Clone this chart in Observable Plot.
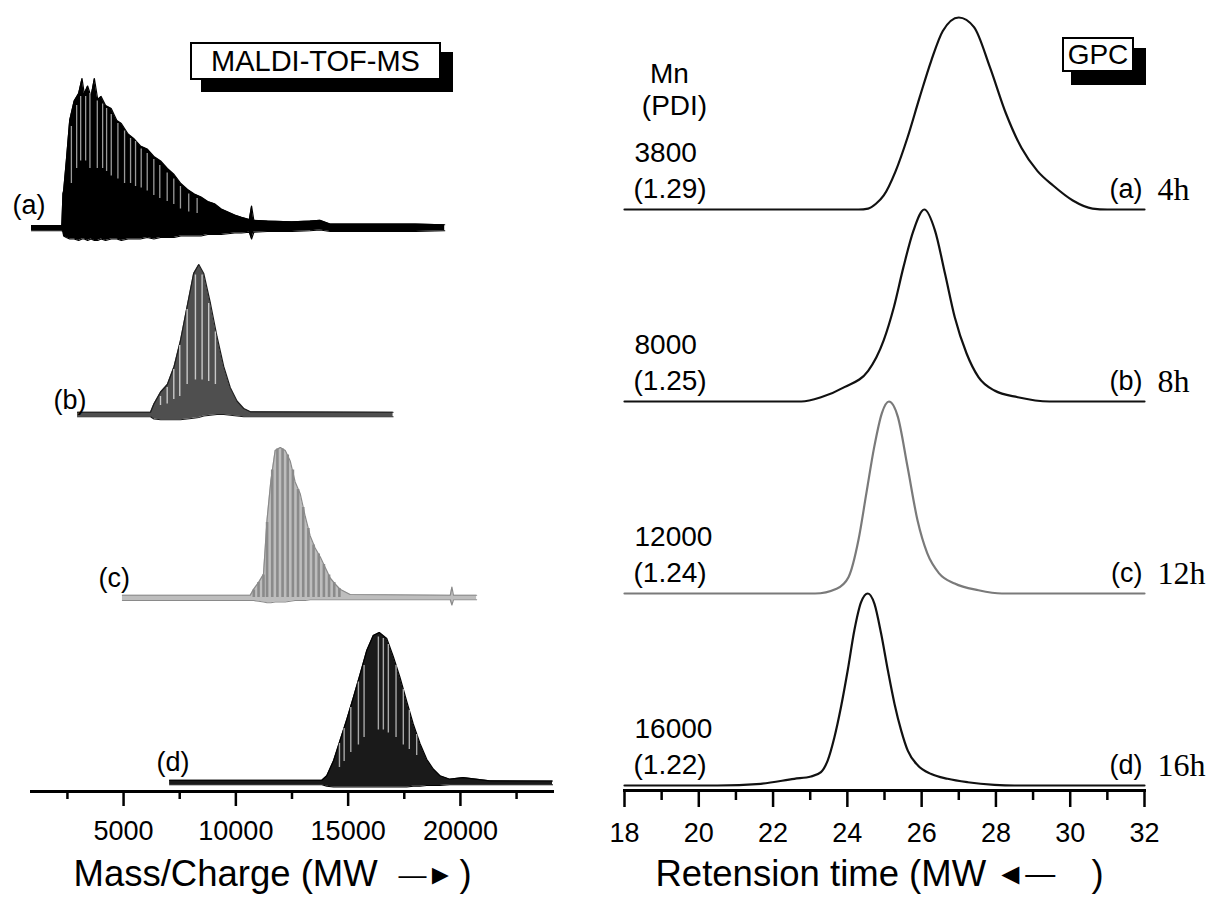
<!DOCTYPE html>
<html>
<head>
<meta charset="utf-8">
<script src="https://cdn.jsdelivr.net/npm/d3@7"></script>
<script src="https://cdn.jsdelivr.net/npm/@observablehq/plot@0.6"></script>
<style>
  html, body { margin: 0; padding: 0; background: #fff; }
  #wrap { position: relative; width: 1216px; height: 910px; overflow: hidden; font-family: "Liberation Sans", Arial, sans-serif; }
  #left, #right { position: absolute; top: 0; }
  #left { left: 0; }
  #right { left: 608px; }
  .shadow { position: absolute; background: #000; }
  .tag { position: absolute; box-sizing: border-box; border: 2px solid #000; background: #fff; color: #000;
         display: flex; align-items: center; justify-content: center; white-space: nowrap; }
</style>
</head>
<body>
<div id="wrap">
  <div id="left"></div>
  <div id="right"></div>
  <div class="shadow" style="left:201px;top:52px;width:252px;height:40px;"></div>
  <div class="tag" style="left:190px;top:42px;width:251px;height:38px;font-size:29px;">MALDI-TOF-MS</div>
  <div class="shadow" style="left:1071px;top:48px;width:75px;height:37px;"></div>
  <div class="tag" style="left:1062px;top:37px;width:72px;height:35px;font-size:28px;">GPC</div>
</div>
<script>
// ---------------- data ----------------
const seriesLabels = ["(a)", "(b)", "(c)", "(d)"];
const times = ["4h", "8h", "12h", "16h"];
const mnValues = ["3800", "8000", "12000", "16000"];
const pdiValues = ["(1.29)", "(1.25)", "(1.24)", "(1.22)"];

const mzTicks = [5000, 10000, 15000, 20000];
const mzMinorTicks = [2500, 7500, 12500, 17500, 22500];
const rtTicks = [18, 20, 22, 24, 26, 28, 30, 32];
const rtMinorTicks = [19, 21, 23, 25, 27, 29, 31];

// MALDI envelopes: [m/z, lower, upper] (normalised intensity)
const maldiA = [
  [900,-0.015,0.02],[2250,-0.015,0.02],[2300,-0.02,0.23],[2330,-0.05,0.25],[2450,-0.06,0.45],
  [2600,-0.07,0.72],[2800,-0.07,0.85],[3000,-0.08,0.9],[3150,-0.07,1.0],[3250,-0.07,0.9],
  [3400,-0.08,0.95],[3550,-0.07,0.88],[3700,-0.08,1.0],[3850,-0.08,0.86],[4000,-0.07,0.88],
  [4200,-0.08,0.82],[4450,-0.07,0.8],[4700,-0.07,0.72],[4900,-0.08,0.7],[5200,-0.07,0.63],
  [5450,-0.07,0.6],[5750,-0.07,0.55],[6050,-0.06,0.53],[6350,-0.07,0.48],[6650,-0.06,0.45],
  [6950,-0.06,0.4],[7250,-0.06,0.36],[7550,-0.05,0.3],[7850,-0.05,0.26],[8150,-0.05,0.23],
  [8450,-0.05,0.21],[8750,-0.04,0.18],[9050,-0.04,0.165],[9350,-0.04,0.13],[9650,-0.035,0.11],
  [9950,-0.03,0.09],[10250,-0.03,0.075],[10600,-0.025,0.06],[10700,-0.07,0.15],[10800,-0.025,0.055],
  [11400,-0.02,0.05],[12500,-0.02,0.045],[13300,-0.015,0.05],[13750,-0.01,0.055],[14200,-0.02,0.03],
  [16000,-0.02,0.03],[18000,-0.02,0.03],[19300,-0.015,0.025]
];
const maldiB = [
  [2950,-0.015,0.015],[6200,-0.015,0.015],[6350,-0.03,0.07],[6650,-0.035,0.15],[6950,-0.035,0.2],
  [7250,-0.035,0.32],[7530,-0.035,0.49],[7830,-0.03,0.72],[8120,-0.025,0.94],[8350,-0.02,1.0],
  [8570,-0.01,0.94],[8870,-0.005,0.74],[9160,0.0,0.52],[9460,0.0,0.32],[9750,-0.005,0.18],
  [10050,-0.01,0.09],[10350,-0.015,0.04],[10650,-0.015,0.018],[17000,-0.015,0.015]
];
const maldiC = [
  [4950,-0.02,0.015],[10640,-0.02,0.015],[10790,-0.02,0.055],[11010,-0.025,0.1],[11230,-0.03,0.155],
  [11390,-0.035,0.52],[11560,-0.035,0.78],[11750,-0.03,0.98],[11980,-0.03,1.0],[12200,-0.03,0.98],
  [12420,-0.025,0.91],[12640,-0.02,0.77],[12870,-0.02,0.69],[13090,-0.02,0.54],[13310,-0.015,0.41],
  [13530,-0.015,0.33],[13760,-0.015,0.27],[13980,-0.015,0.2],[14200,-0.015,0.13],[14420,-0.015,0.09],
  [14640,-0.015,0.055],[15090,-0.015,0.02],[19550,-0.015,0.015],[19620,-0.05,0.07],[19690,-0.015,0.015],
  [20720,-0.015,0.015]
];
const maldiD = [
  [7050,-0.015,0.015],[13830,-0.015,0.015],[14050,-0.025,0.045],[14350,-0.03,0.145],[14640,-0.03,0.28],
  [14940,-0.03,0.42],[15240,-0.03,0.57],[15530,-0.03,0.72],[15830,-0.03,0.88],[16120,-0.03,0.98],
  [16390,-0.03,1.0],[16720,-0.03,0.96],[17010,-0.03,0.84],[17310,-0.03,0.70],[17610,-0.03,0.54],
  [17900,-0.025,0.39],[18200,-0.025,0.26],[18500,-0.02,0.155],[18790,-0.02,0.09],[19090,-0.02,0.045],
  [19530,-0.015,0.022],[20120,-0.015,0.033],[21310,-0.015,0.011],[24100,-0.015,0.01]
];

// resolved oligomer peaks / gaps: [m/z, from, to]
const stripesA = [
  [2676,0.3,0.68],[2911,0.4,0.82],[3089,0.45,0.88],[3311,0.45,0.88],[3502,0.4,0.9],[3830,0.4,0.85],
  [4067,0.4,0.83],[4244,0.38,0.8],[4452,0.35,0.76],[4748,0.33,0.7],[5044,0.3,0.65],[5311,0.3,0.6],
  [5533,0.28,0.58],[5785,0.27,0.53],[6053,0.25,0.5],[6347,0.22,0.46],[6613,0.2,0.42],[6942,0.18,0.37],
  [7236,0.16,0.33],[7533,0.13,0.28],[7902,0.11,0.23],[8275,0.1,0.2]
];
const stripesB = [
  [6644,0.06,0.12],[6942,0.07,0.18],[7236,0.1,0.3],[7502,0.12,0.46],[7831,0.2,0.7],
  [8200,0.23,0.93],[8497,0.23,0.93],[8791,0.22,0.74],[9089,0.2,0.55]
];
const peaksC = [
  [10800,0.0,0.05],[11010,0.0,0.1],[11230,0.0,0.15],[11390,0.0,0.5],[11620,0.0,0.85],[11850,0.0,0.99],
  [12080,0.0,0.99],[12310,0.0,0.95],[12540,0.0,0.85],[12770,0.0,0.72],[13000,0.0,0.6],[13230,0.0,0.46],
  [13460,0.0,0.35],[13690,0.0,0.29],[13920,0.0,0.22],[14150,0.0,0.15],[14380,0.0,0.1],[14610,0.0,0.06]
];
const stripesD = [
  [14613,0.1,0.26],[14822,0.14,0.36],[15118,0.2,0.5],[15457,0.25,0.67],[15710,0.3,0.78],[16346,0.35,0.97],
  [16568,0.35,0.96],[16790,0.33,0.92],[17133,0.3,0.78],[17457,0.25,0.62],[17724,0.22,0.48],[18052,0.18,0.32]
];

// GPC traces: [retention time, normalised signal]
const gpcA = [
  [18,0],[24.3,0],[24.56,0.005],[24.77,0.03],[24.98,0.073],[25.3,0.2],[25.62,0.375],[25.94,0.58],
  [26.26,0.776],[26.57,0.93],[27.0,1.0],[27.41,0.95],[27.84,0.74],[28.27,0.5],[28.69,0.32],[29.12,0.2],
  [29.54,0.125],[30.07,0.047],[30.6,0.005],[31,0],[32,0]
];
const gpcB = [
  [18,0],[22.76,0],[23.29,0.022],[23.92,0.075],[24.56,0.16],[24.98,0.32],[25.25,0.49],[25.51,0.70],
  [25.78,0.89],[26.07,1.0],[26.36,0.89],[26.63,0.665],[26.89,0.44],[27.21,0.25],[27.53,0.127],
  [27.96,0.057],[28.59,0.022],[29.44,0],[32,0]
];
const gpcC = [
  [18,0],[23.13,0],[23.71,0.025],[24.03,0.085],[24.3,0.28],[24.51,0.52],[24.72,0.76],[24.93,0.94],
  [25.12,1.0],[25.36,0.92],[25.62,0.66],[25.89,0.38],[26.15,0.21],[26.47,0.105],[26.89,0.052],
  [27.53,0.017],[28.16,0],[32,0]
];
const gpcD = [
  [18,0],[20.5,0],[21.67,0.009],[22.57,0.035],[23.02,0.047],[23.29,0.07],[23.47,0.13],[23.65,0.25],
  [23.83,0.41],[24.01,0.6],[24.19,0.81],[24.37,0.955],[24.55,1.0],[24.73,0.946],[24.91,0.79],
  [25.09,0.6],[25.27,0.425],[25.45,0.286],[25.63,0.18],[25.9,0.104],[26.26,0.06],[26.7,0.035],
  [27.24,0.017],[27.96,0.0035],[28.5,0],[32,0]
];

// ---------------- layout / style ----------------
const FONT = '"Liberation Sans", Arial, sans-serif';
const SERIF = '"Liberation Serif", "Times New Roman", serif';
const maldiOffset = [3.7533, 2.5133, 1.2933, 0.06];   // stacking offsets (layout)
const gpcOffset = [3.026, 2.026, 1.026, 0.026];
const maldiSets = [maldiA, maldiB, maldiC, maldiD];
const maldiFill = ["#000000", "#4f4f4f", "#bdbdbd", "#1a1a1a"];
const maldiEdge = ["#000000", "#1e1e1e", "#8a8a8a", "#000000"];
const labelDx = [-19, -24, -24, -13];
const labelDy = [-23, -14, -19, -20];
const blank = () => "";

const leftMarks = [];
maldiSets.forEach((set, i) => {
  const off = maldiOffset[i];
  leftMarks.push(Plot.areaY(set, {x: d => d[0], y1: d => off + d[1], y2: d => off + d[2], fill: maldiFill[i]}));
  leftMarks.push(Plot.line(set, {x: d => d[0], y: d => off + d[2], stroke: maldiEdge[i], strokeWidth: 1.2}));
  leftMarks.push(Plot.line(set, {x: d => d[0], y: d => off + d[1], stroke: maldiEdge[i], strokeWidth: 1.2}));
});
leftMarks.push(Plot.ruleX(stripesA, {x: d => d[0], y1: d => maldiOffset[0] + d[1], y2: d => maldiOffset[0] + d[2], stroke: "#9a9a9a", strokeWidth: 1.3}));
leftMarks.push(Plot.ruleX(stripesB, {x: d => d[0], y1: d => maldiOffset[1] + d[1], y2: d => maldiOffset[1] + d[2], stroke: "#c8c8c8", strokeWidth: 1.4}));
leftMarks.push(Plot.ruleX(peaksC, {x: d => d[0], y1: d => maldiOffset[2] + d[1], y2: d => maldiOffset[2] + d[2], stroke: "#8a8a8a", strokeWidth: 2.6}));
leftMarks.push(Plot.ruleX(stripesD, {x: d => d[0], y1: d => maldiOffset[3] + d[1], y2: d => maldiOffset[3] + d[2], stroke: "#a8a8a8", strokeWidth: 1.4}));
// series labels
seriesLabels.forEach((s, i) => {
  leftMarks.push(Plot.text([s], {x: maldiSets[i][0][0], y: maldiOffset[i], text: d => d,
    textAnchor: "start", dx: labelDx[i], dy: labelDy[i], fontSize: 27, fill: "#000"}));
});
// axis
leftMarks.push(Plot.frame({anchor: "bottom", strokeWidth: 3, stroke: "#000"}));
leftMarks.push(Plot.axisX({ticks: mzTicks, tickSize: 15, tickPadding: 14, strokeWidth: 2.5, fontSize: 27,
  tickFormat: d => String(d), label: null}));
leftMarks.push(Plot.axisX({ticks: mzMinorTicks, tickSize: 8, strokeWidth: 2.5, tickFormat: blank, label: null}));
leftMarks.push(Plot.text(["Mass/Charge (MW"], {frameAnchor: "bottom-left", text: d => d, textAnchor: "start", dx: 42, dy: 94, fontSize: 36.5}));
leftMarks.push(Plot.text(["\u2014\u25BA"], {frameAnchor: "bottom-left", text: d => d, textAnchor: "start", dx: 367, dy: 92, fontSize: 28}));
leftMarks.push(Plot.text([")"], {frameAnchor: "bottom-left", text: d => d, textAnchor: "start", dx: 428, dy: 94, fontSize: 36.5}));

const left = Plot.plot({
  width: 608, height: 910,
  marginLeft: 31, marginRight: 56, marginTop: 0, marginBottom: 119,
  style: {fontFamily: FONT, color: "#000", background: "transparent", overflow: "visible"},
  x: {domain: [900, 24100]},
  y: {domain: [0, 791 / 150], axis: null},
  marks: leftMarks
});
document.getElementById("left").appendChild(left);

// ---------------- right panel ----------------
const gpcSets = [gpcA, gpcB, gpcC, gpcD];
const gpcColor = ["#111111", "#111111", "#7a7a7a", "#111111"];
const rightMarks = [];
gpcSets.forEach((set, i) => {
  const off = gpcOffset[i];
  rightMarks.push(Plot.line(set, {x: d => d[0], y: d => off + d[1], stroke: gpcColor[i], strokeWidth: 2.2, curve: "monotone-x"}));
  rightMarks.push(Plot.text([mnValues[i]], {x: 18, y: off, text: d => d, textAnchor: "start", dx: 10, dy: -56, fontSize: 28}));
  rightMarks.push(Plot.text([pdiValues[i]], {x: 18, y: off, text: d => d, textAnchor: "start", dx: 9, dy: -20, fontSize: 28}));
  rightMarks.push(Plot.text([seriesLabels[i]], {x: 32, y: off, text: d => d, textAnchor: "end", dx: -2, dy: -20, fontSize: 27}));
  rightMarks.push(Plot.text([times[i]], {x: 32, y: off, text: d => d, textAnchor: "start", dx: 13, dy: -20, fontSize: 32, fontFamily: SERIF}));
});
rightMarks.push(Plot.text(["Mn"], {frameAnchor: "top-left", text: d => d, textAnchor: "middle", dx: 45, dy: 63, fontSize: 28}));
rightMarks.push(Plot.text(["(PDI)"], {frameAnchor: "top-left", text: d => d, textAnchor: "middle", dx: 50, dy: 95, fontSize: 28}));
rightMarks.push(Plot.frame({anchor: "bottom", strokeWidth: 3, stroke: "#000"}));
rightMarks.push(Plot.axisX({ticks: rtTicks, tickSize: 17, tickPadding: 15, strokeWidth: 2.5, fontSize: 27,
  tickFormat: d => String(d), label: null}));
rightMarks.push(Plot.axisX({ticks: rtMinorTicks, tickSize: 10, strokeWidth: 2.5, tickFormat: blank, label: null}));
rightMarks.push(Plot.text(["Retension time (MW"], {frameAnchor: "bottom-left", text: d => d, textAnchor: "start", dx: 31, dy: 95, fontSize: 36.5}));
rightMarks.push(Plot.text(["\u25C4\u2014"], {frameAnchor: "bottom-left", text: d => d, textAnchor: "start", dx: 371, dy: 93, fontSize: 30}));
rightMarks.push(Plot.text([")"], {frameAnchor: "bottom-left", text: d => d, textAnchor: "start", dx: 467, dy: 95, fontSize: 36.5}));

const right = Plot.plot({
  width: 608, height: 910,
  marginLeft: 16, marginRight: 72, marginTop: 0, marginBottom: 120,
  style: {fontFamily: FONT, color: "#000", background: "transparent", overflow: "visible"},
  x: {domain: [18, 32]},
  y: {domain: [0, 790 / 192], axis: null},
  marks: rightMarks
});
document.getElementById("right").appendChild(right);
</script>
</body>
</html>
